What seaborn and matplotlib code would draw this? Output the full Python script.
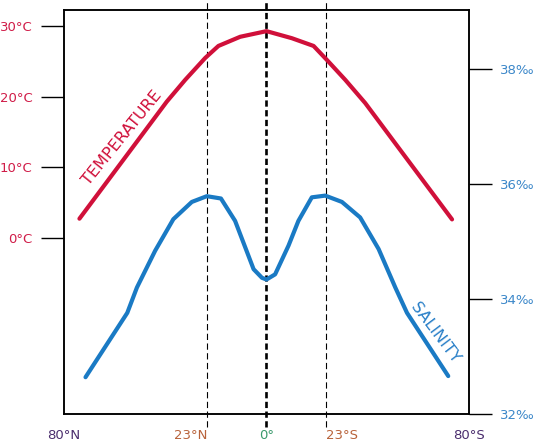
import matplotlib
matplotlib.use("Agg")
import matplotlib.pyplot as plt
import seaborn as sns

# latitude: negative = north, positive = south
temp_lat = [-73.9, -39.4, -32.1, -24.2, -19.0, -10.4, 0.0, 10.0, 18.6, 23.9, 31.1, 39.0, 73.3]
temp_val = [2.7, 19.3, 22.4, 25.5, 27.2, 28.5, 29.3, 28.3, 27.2, 25.2, 22.4, 19.1, 2.6]

sal_lat = [-71.5, -55.0, -51.2, -44.0, -36.8, -29.5, -23.6, -18.0, -12.4, -5.1, -1.8, 0.0,
           3.4, 8.7, 12.6, 17.9, 23.2, 29.8, 37.0, 44.3, 50.9, 55.5, 71.8]
sal_val = [32.64, 33.76, 34.20, 34.84, 35.39, 35.69, 35.79, 35.75, 35.36, 34.52, 34.37, 34.34,
           34.43, 34.93, 35.36, 35.77, 35.80, 35.69, 35.42, 34.87, 34.20, 33.76, 32.66]

x_ticks = [-80, -23.5, 0, 23.5, 80]
x_labels = ["80°N", "23°N", "0°", "23°S", "80°S"]
x_colors = ["#4b2e6e", "#b8623a", "#3a9a6c", "#b8623a", "#4b2e6e"]
temp_ticks = [0, 10, 20, 30]
temp_labels = ["0°C", "10°C", "20°C", "30°C"]
sal_ticks = [32, 34, 36, 38]
sal_labels = ["32‰", "34‰", "36‰", "38‰"]

sns.set_style("white")
plt.rcParams["font.family"] = ["DejaVu Sans"]
plt.rcParams["lines.scale_dashes"] = False

TEMP_C = "#d0103a"
SAL_C = "#1a7ac4"

fig = plt.figure(figsize=(5.36, 4.48), dpi=100)
ax = fig.add_axes([0.1194, 0.0759, 0.7556, 0.9018])
ax2 = ax.twinx()

# tropics and equator, running past the frame
for lat, lw in [(-23.5, 0.8), (0, 1.9), (23.5, 0.8)]:
    ax.axvline(lat, ymin=-0.032, ymax=1.03, color="black", lw=lw,
               dashes=(4.5, 2.5), clip_on=False, zorder=1)

sns.lineplot(x=temp_lat, y=temp_val, ax=ax, color=TEMP_C, linewidth=3, zorder=3)
sns.lineplot(x=sal_lat, y=sal_val, ax=ax2, color=SAL_C, linewidth=3, zorder=3)

ax.set_xlim(-80, 80)
ax.set_ylim(-25, 32.3)
ax2.set_ylim(32, 39.03)

ax.set_xticks(x_ticks)
ax.set_xticklabels(x_labels)
for lab, c, ha in zip(ax.get_xticklabels(), x_colors,
                      ["center", "right", "center", "left", "center"]):
    lab.set_color(c)
    lab.set_ha(ha)
ax.tick_params(axis="x", length=0, pad=11, labelsize=9.5)

ax.set_yticks(temp_ticks)
ax.set_yticklabels(temp_labels)
ax.tick_params(axis="y", left=True, length=16.5, width=1, color="black",
               labelcolor="#d01c48", labelsize=9.5, pad=6)

ax2.set_yticks(sal_ticks)
ax2.set_yticklabels(sal_labels)
ax2.tick_params(axis="y", right=True, length=16.5, width=1, color="black",
                labelcolor="#3b87c9", labelsize=9.5, pad=6)

for a in (ax, ax2):
    a.set_xlabel("")
    a.set_ylabel("")
    for s in a.spines.values():
        s.set_color("black")
        s.set_linewidth(1.1)
        s.set_visible(True)

ax.text(0.144, 0.684, "TEMPERATURE", transform=ax.transAxes, rotation=51,
        color=TEMP_C, fontsize=11.5, ha="center", va="center")
ax2.text(0.916, 0.202, "SALINITY", transform=ax2.transAxes, rotation=-53,
         color="#2a80c8", fontsize=11.5, ha="center", va="center")

fig.savefig("out.png", dpi=100)
